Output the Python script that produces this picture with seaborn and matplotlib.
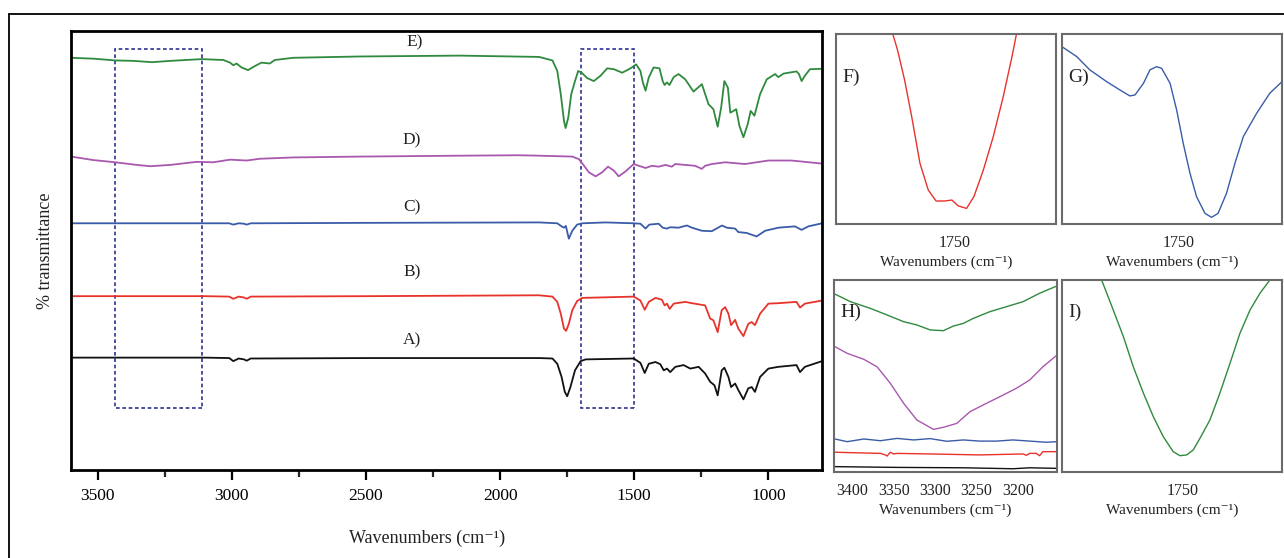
"""FTIR spectra A-E with zoomed insets F-I."""
import matplotlib
matplotlib.use("Agg")
import matplotlib.pyplot as plt
from matplotlib.patches import Rectangle
from matplotlib.lines import Line2D
import seaborn as sns

# ---- main panel spectra (wavenumber, offset transmittance) ----
E_wn = [3600, 3516, 3435, 3367, 3298, 3230, 3113, 3032, 3007, 2995, 2983, 2964, 2940, 2915, 2890, 2859, 2840, 2772,
        2524, 2152, 1855, 1805, 1787, 1774, 1762, 1756, 1746, 1735, 1721, 1709, 1696, 1676, 1651, 1626, 1601, 1576,
        1545, 1514, 1493, 1477, 1468, 1458, 1446, 1428, 1406, 1394, 1387, 1378, 1369, 1353, 1335, 1310, 1279, 1248,
        1223, 1205, 1189, 1176, 1164, 1151, 1142, 1130, 1120, 1108, 1093, 1077, 1066, 1052, 1031, 1006, 975, 963,
        944, 895, 886, 876, 864, 845, 800]
E_val = [93.9, 93.7, 93.3, 93.2, 92.9, 93.2, 93.6, 93.4, 92.8, 92.2, 92.6, 91.7, 91.1, 92.0, 92.8, 92.6, 93.4, 93.9,
         94.2, 94.4, 94.1, 93.3, 90.9, 85.6, 79.5, 77.9, 80.3, 85.6, 88.6, 90.9, 90.5, 89.3, 88.6, 89.8, 91.5, 91.3,
         90.5, 91.5, 92.4, 90.9, 88.3, 86.4, 89.4, 91.7, 91.5, 88.6, 87.7, 88.3, 87.7, 89.5, 90.2, 89.0, 86.2, 87.9,
         83.3, 82.2, 78.2, 82.6, 88.6, 87.1, 81.4, 81.8, 82.2, 78.4, 75.8, 78.8, 81.8, 80.7, 85.6, 89.0, 90.2, 89.5,
         90.3, 90.8, 90.2, 88.6, 89.8, 91.3, 91.4]

D_wn = [3600, 3516, 3435, 3354, 3305, 3230, 3131, 3069, 3007, 2945, 2896, 2772, 2524, 2152, 1930, 1855, 1731, 1706,
        1687, 1669, 1644, 1620, 1598, 1576, 1558, 1533, 1502, 1483, 1458, 1434, 1409, 1384, 1360, 1347, 1310, 1273,
        1248, 1236, 1211, 1161, 1087, 1000, 914, 800]
D_val = [71.4, 70.6, 70.1, 69.5, 69.2, 69.5, 70.2, 70.1, 70.7, 70.5, 70.9, 71.2, 71.4, 71.6, 71.7, 71.6, 71.4, 70.8,
         69.3, 67.8, 66.9, 67.8, 69.1, 68.2, 66.9, 68.0, 69.7, 69.3, 68.8, 69.3, 69.1, 69.5, 69.1, 69.7, 69.5, 69.3,
         68.6, 69.3, 69.7, 70.1, 69.7, 70.5, 70.5, 69.8]

C_wn = [3600, 3100, 3010, 2995, 2975, 2955, 2945, 2930, 2500, 1855, 1787, 1771, 1762, 1755, 1744, 1731, 1713, 1694,
        1607, 1502, 1477, 1458, 1444, 1409, 1394, 1378, 1366, 1335, 1304, 1285, 1248, 1211, 1173, 1155, 1124, 1112,
        1081, 1044, 1012, 963, 901, 876, 851, 800]
C_val = [56.2, 56.2, 56.2, 55.9, 56.2, 56.1, 55.9, 56.2, 56.3, 56.4, 56.2, 55.5, 55.2, 55.6, 52.7, 54.5, 55.9, 56.2,
         56.4, 56.2, 56.1, 55.0, 55.9, 56.1, 55.2, 55.0, 55.3, 55.2, 55.7, 55.2, 54.5, 54.4, 55.7, 55.2, 55.0, 54.2,
         54.0, 53.2, 54.5, 55.2, 55.5, 54.7, 55.5, 56.2]

B_wn = [3600, 3100, 3010, 2995, 2975, 2955, 2945, 2930, 2500, 1855, 1805, 1787, 1774, 1762, 1754, 1744, 1731, 1713,
        1694, 1502, 1477, 1461, 1446, 1421, 1397, 1387, 1378, 1368, 1353, 1310, 1285, 1236, 1217, 1205, 1189, 1174,
        1161, 1149, 1139, 1124, 1112, 1093, 1075, 1062, 1050, 1031, 1000, 963, 895, 882, 864, 800]
B_val = [39.6, 39.6, 39.5, 39.0, 39.5, 39.3, 39.0, 39.5, 39.6, 39.8, 39.5, 38.3, 35.6, 32.2, 31.7, 33.3, 36.4, 38.5,
         39.2, 39.5, 38.6, 36.5, 38.3, 39.2, 38.8, 37.5, 37.9, 36.7, 37.9, 38.3, 38.0, 37.5, 34.5, 34.1, 31.4, 36.4,
         37.1, 35.6, 33.0, 34.2, 32.2, 30.5, 33.3, 33.7, 33.0, 35.6, 37.9, 38.0, 38.3, 37.0, 37.9, 38.6]

A_wn = [3600, 3100, 3010, 2995, 2975, 2955, 2945, 2930, 2500, 1855, 1805, 1787, 1771, 1759, 1750, 1738, 1721, 1700,
        1681, 1502, 1477, 1461, 1446, 1421, 1403, 1390, 1378, 1366, 1347, 1316, 1291, 1260, 1236, 1217, 1201, 1189,
        1174, 1164, 1149, 1139, 1124, 1112, 1093, 1075, 1062, 1050, 1031, 1000, 963, 895, 882, 864, 800]
A_val = [25.6, 25.6, 25.5, 24.8, 25.4, 25.2, 24.9, 25.4, 25.5, 25.5, 25.4, 24.2, 21.2, 17.8, 16.8, 18.9, 22.7, 24.8,
         25.2, 25.4, 24.4, 22.1, 24.2, 24.6, 24.1, 22.7, 23.1, 22.3, 23.5, 23.9, 23.1, 23.5, 22.0, 20.1, 19.3, 17.0,
         22.7, 23.3, 21.2, 18.9, 19.7, 18.2, 16.1, 18.6, 18.9, 17.8, 21.2, 23.1, 23.5, 23.9, 22.3, 23.5, 24.8]

labels = ["A)", "B)", "C)", "D)", "E)"]
label_wn = [2330, 2330, 2330, 2330, 2320]
label_y = [29.5, 45.0, 59.8, 75.0, 97.3]

# dashed highlight boxes (wavenumber ranges, transmittance range)
box_wn = [(3435, 3112), (1698, 1500)]
box_y = (14.1, 96.0)

# ---- inset F (B, carbonyl) ----
F_wn = [1776, 1774, 1771, 1768, 1764.5, 1761, 1757.7, 1754, 1751, 1748.3, 1744.8, 1741.7, 1737.7, 1733.5, 1729.3,
        1725.6, 1723.7]
F_val = [100, 91.6, 75.8, 56.5, 31.9, 17.9, 12.1, 12.1, 12.6, 9.5, 8.2, 14.4, 28.4, 46.0, 67.0, 88.0, 100]

# ---- inset G (C, carbonyl) ----
G_wn = [1800, 1793.7, 1788.1, 1780.9, 1775.2, 1771.0, 1768.8, 1765.2, 1762.4, 1759.6, 1757.4, 1753.8, 1751.0, 1748.2,
        1745.3, 1742.5, 1738.9, 1736.1, 1733.3, 1729.7, 1726.1, 1722.5, 1716.8, 1711.2, 1706]
G_val = [93.3, 88.1, 81.1, 74.9, 70.5, 67.4, 67.9, 74.0, 81.1, 82.8, 81.9, 74.0, 60.0, 42.5, 26.7, 14.4, 5.6, 3.5,
         5.6, 16.1, 31.9, 46.0, 58.3, 68.8, 74.9]

# ---- inset H (O-H region, all samples) ----
HE_wn = [3421, 3402, 3378, 3358, 3338, 3322, 3306, 3290, 3278, 3266, 3254, 3234, 3214, 3194, 3174, 3153]
HE_val = [92.7, 88.7, 85.2, 81.8, 78.3, 76.6, 74.0, 73.6, 76.0, 77.4, 80.0, 83.5, 86.1, 88.7, 93.1, 96.9]
HD_wn = [3421, 3406, 3386, 3370, 3354, 3338, 3322, 3302, 3290, 3274, 3258, 3238, 3222, 3202, 3186, 3170, 3153]
HD_val = [65.3, 61.8, 58.7, 54.8, 46.2, 35.8, 27.1, 22.2, 23.3, 25.3, 31.4, 35.8, 39.2, 43.6, 47.9, 54.8, 60.9]
HC_wn = [3421, 3406, 3386, 3366, 3346, 3326, 3306, 3286, 3266, 3246, 3226, 3206, 3186, 3166, 3153]
HC_val = [17.2, 15.8, 17.2, 16.3, 17.5, 16.7, 17.4, 16.0, 16.7, 16.1, 16.1, 16.7, 16.1, 15.5, 15.8]
HB_wn = [3421, 3366, 3360, 3358, 3354, 3350, 3346, 3306, 3246, 3194, 3190, 3186, 3178, 3174, 3170, 3153]
HB_val = [10.3, 9.7, 8.9, 8.3, 10.3, 9.4, 9.7, 9.4, 8.9, 9.4, 8.7, 9.7, 9.7, 8.5, 10.6, 10.6]
HA_wn = [3421, 3346, 3266, 3206, 3186, 3153]
HA_val = [2.8, 2.4, 2.2, 1.7, 2.2, 1.9]

# ---- inset I (E, carbonyl) ----
I_wn = [1783.6, 1778.8, 1774.6, 1770.5, 1766.3, 1762.2, 1758.1, 1754.0, 1751.2, 1748.4, 1745.7, 1742.9, 1738.8,
        1734.7, 1730.5, 1726.4, 1722.2, 1718.1, 1714.0]
I_val = [100, 84.4, 70.5, 54.8, 41.0, 28.8, 18.4, 10.6, 8.5, 8.9, 11.5, 17.6, 27.1, 41.0, 56.6, 72.2, 84.4, 93.1, 100]

COLORS = {"A": "#111111", "B": "#e8332b", "C": "#3a5ca8", "D": "#a858ae", "E": "#2f8a3f"}
BOX_COLOR = "#2d3192"

sns.set_theme(style="white")
plt.rcParams["font.family"] = ["Liberation Serif", "DejaVu Serif"]

XLABEL = "Wavenumbers (cm\u207b\u00b9)"

fig = plt.figure(figsize=(12.84, 5.58), dpi=100)

# outer frame of the figure
fig.add_artist(Line2D([0.007, 1.0], [0.9749, 0.9749], transform=fig.transFigure, color="black", lw=1.3))
fig.add_artist(Line2D([0.007, 0.007], [0.0, 0.9749], transform=fig.transFigure, color="black", lw=1.3))

# main panel
ax = fig.add_axes([0.0553, 0.1577, 0.5849, 0.7867])
for key, wn, val in [("A", A_wn, A_val), ("B", B_wn, B_val), ("C", C_wn, C_val),
                     ("D", D_wn, D_val), ("E", E_wn, E_val)]:
    sns.lineplot(x=wn, y=val, ax=ax, color=COLORS[key], lw=1.3, sort=False, estimator=None)
for lab, xw, yv in zip(labels, label_wn, label_y):
    ax.text(xw, yv, lab, ha="center", va="center", fontsize=12.5, color="#222222")
for x0, x1 in box_wn:
    ax.add_patch(Rectangle((x1, box_y[0]), x0 - x1, box_y[1] - box_y[0], fill=False,
                           edgecolor=BOX_COLOR, lw=1.2, linestyle=(0, (2.2, 1.6))))
ax.set_xlim(3600, 800)
ax.set_ylim(0, 100)
ax.set_xticks([3500, 3000, 2500, 2000, 1500, 1000])
ax.set_xticks([3250, 2750, 2250, 1750, 1250], minor=True)
ax.set_yticks([])
ax.tick_params(axis="x", which="major", direction="out", length=7, width=1.6, labelsize=12.5,
               colors="black", bottom=True, pad=6)
ax.tick_params(axis="x", which="minor", direction="out", length=5, width=1.6, bottom=True)
for sp in ax.spines.values():
    sp.set_color("black")
    sp.set_linewidth(2)
ax.set_xlabel(XLABEL, fontsize=13, color="#222222")
ax.xaxis.set_label_coords(0.474, -0.135)
ax.set_ylabel("% transmittance", fontsize=13, labelpad=12, color="#222222")


def inset(rect, xlim, ticks, ticklabels, tag, tag_y):
    a = fig.add_axes(rect)
    a.set_xlim(*xlim)
    a.set_ylim(0, 100)
    a.set_xticks(ticks)
    a.set_xticklabels(ticklabels)
    a.set_yticks([])
    a.tick_params(axis="x", length=0, labelsize=11.5, pad=8, colors="#222222")
    for sp in a.spines.values():
        sp.set_color("#6b6b6b")
        sp.set_linewidth(1.5)
    a.set_xlabel(XLABEL, fontsize=11, labelpad=3, color="#222222")
    a.text(0.03, tag_y, tag, transform=a.transAxes, fontsize=14, va="center", ha="left", color="#222222")
    return a


axF = inset([0.6511, 0.5986, 0.1713, 0.3405], (1800, 1707), [1750], ["1750"], "F)", 0.77)
sns.lineplot(x=F_wn, y=F_val, ax=axF, color=COLORS["B"], lw=1.0, sort=False, estimator=None)

axG = inset([0.8271, 0.5986, 0.1713, 0.3405], (1800, 1706), [1750], ["1750"], "G)", 0.77)
sns.lineplot(x=G_wn, y=G_val, ax=axG, color=COLORS["C"], lw=1.0, sort=False, estimator=None)

axH = inset([0.6495, 0.1541, 0.1737, 0.3441], (3422, 3153), [3400, 3350, 3300, 3250, 3200],
            ["3400", "3350", "3300", "3250", "3200"], "H)", 0.83)
for key, wn, val in [("E", HE_wn, HE_val), ("D", HD_wn, HD_val), ("C", HC_wn, HC_val),
                     ("B", HB_wn, HB_val), ("A", HA_wn, HA_val)]:
    sns.lineplot(x=wn, y=val, ax=axH, color=COLORS[key], lw=1.0, sort=False, estimator=None)

axI = inset([0.8271, 0.1541, 0.1713, 0.3441], (1800, 1709), [1750], ["1750"], "I)", 0.83)
sns.lineplot(x=I_wn, y=I_val, ax=axI, color=COLORS["E"], lw=1.0, sort=False, estimator=None)

fig.savefig("out.png", dpi=100)
plt.close(fig)
